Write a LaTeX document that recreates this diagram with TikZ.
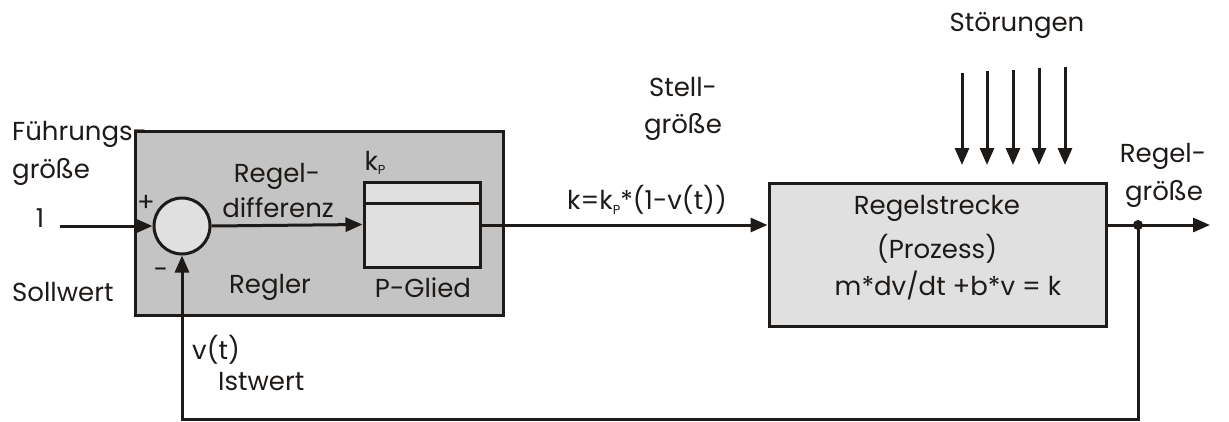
\documentclass[tikz,border=0pt]{standalone}
\usepackage{fontspec}
\setmainfont{Poppins}
\usetikzlibrary{arrows.meta}
\definecolor{darkgrey}{HTML}{C4C4C4}
\definecolor{lightgrey}{HTML}{E0E0E0}
\definecolor{ink}{HTML}{1E1A18}
\newcommand\subP{\raisebox{-0.3ex}{\scalebox{0.5}{P}}}
\tikzset{
  lbl/.style={inner sep=0pt, font=\fontsize{26}{31}\selectfont, text=ink},
  blk/.style={draw=ink, line width=3pt, inner sep=0pt},
  conn/.style={draw=ink, line width=3pt},
  arr/.style={conn, -{Triangle[length=17pt,width=14pt]}},
}
\begin{document}
\begin{tikzpicture}[x=1pt,y=-1pt]
\useasboundingbox (0,0) rectangle (1229,421);
% blocks
\node[blk, fill=darkgrey, minimum width=368pt, minimum height=184pt] (regler) at (319,223) {};
\node[blk, fill=lightgrey, circle, minimum size=56pt] (sum) at (182,226) {};
\node[blk, fill=lightgrey, minimum width=116pt, minimum height=85pt] (pglied) at (422,224.5) {};
\draw[conn] (pglied.west |- 0,203) -- (pglied.east |- 0,203);
\node[blk, fill=lightgrey, minimum width=337pt, minimum height=143pt] (strecke) at (937.5,254.5) {};
% labels
\node[lbl, anchor=west] (fuehr1) at (12,134) {Führungs-};
\node[lbl, anchor=west] (fuehr2) at (12,172) {größe};
\node[lbl] (one) at (40,218) {1};
\node[lbl, anchor=west] (soll) at (12,292) {Sollwert};
\node[lbl] (plus) at (146,203) {+};
\node[lbl] (minus) at (161,273) {-};
\node[lbl, anchor=base] (rd1) at (277,182) {Regel-};
\node[lbl, anchor=base] (rd2) at (278,217) {differenz};
\node[lbl] (reglerl) at (270,287) {Regler};
\node[lbl] (kp) at (375,163) {k\subP};
\node[lbl] (pgl) at (423,288) {P-Glied};
\node[lbl] (stell1) at (683,87) {Stell-};
\node[lbl] (stell2) at (683,127) {größe};
\node[lbl] (kform) at (647,200) {k=k\subP*(1-v(t))};
\node[lbl] (stoer) at (1017,25) {Störungen};
\node[lbl] (s1) at (937,208) {Regelstrecke};
\node[lbl] (s2) at (937,249) {(Prozess)};
\node[lbl] (s3) at (948,285) {m*dv/dt +b*v = k};
\node[lbl, anchor=base] (rg1) at (1163,162) {Regel-};
\node[lbl, anchor=base] (rg2) at (1164,200) {größe};
\node[lbl, anchor=west] (vt) at (192,350) {v(t)};
\node[lbl, anchor=west] (ist) at (218,382) {Istwert};
% coordinates
\coordinate (in) at (60,226);
\coordinate (out) at (1210,225);
\coordinate (branch) at (1138,225);
\coordinate (fbr) at (1138,419);
\coordinate (fbl) at (182,419);
% connectors
\draw[arr] (in) -- (sum.west);
\draw[arr] (sum.east) -- (pglied.west);
\draw[arr] (pglied.east |- 0,225) -- (strecke.west |- 0,225);
\draw[arr] (strecke.east |- 0,225) -- (out);
\fill[ink] (branch) circle (5pt);
\draw[arr] (branch) -- (fbr) -- (fbl) -- (sum.south);
% disturbances
\foreach \x/\y in {962/73,987/71,1013/70,1039/68,1065/67}{
  \draw[arr] (\x,\y) -- (\x,165);
}
\end{tikzpicture}
\end{document}
